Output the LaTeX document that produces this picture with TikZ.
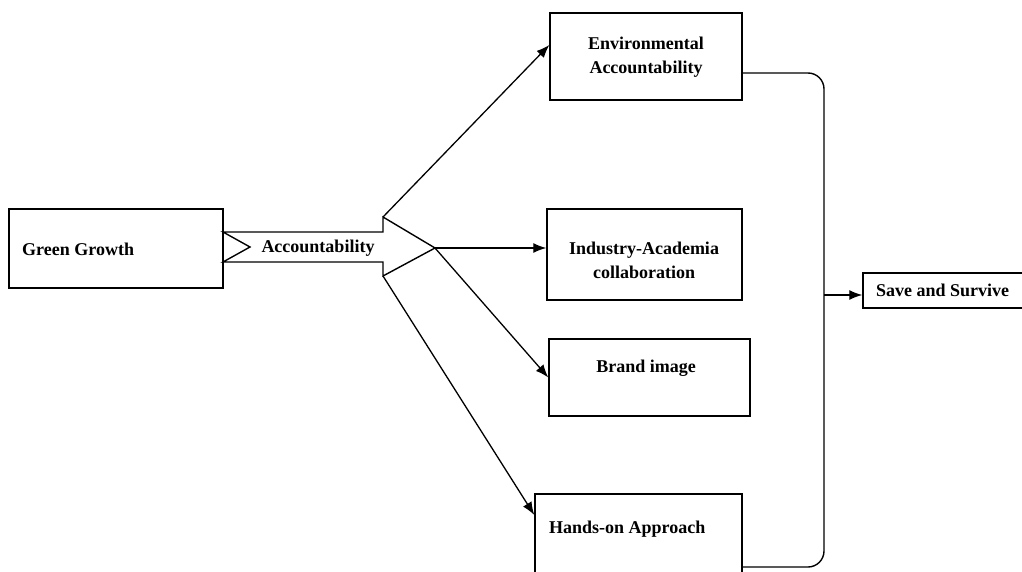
\documentclass[tikz,border=0pt]{standalone}
\usepackage{fontspec}
\setmainfont{Liberation Serif}
\usetikzlibrary{arrows.meta}
\begin{document}
\begin{tikzpicture}[x=1pt,y=-1pt,
  box/.style={draw, line width=1.4pt, rectangle, inner sep=0pt},
  lbl/.style={font=\fontsize{18}{24}\selectfont\bfseries, inner sep=0pt, align=center},
  conn/.style={line width=1.3pt, -{Latex[length=13pt,width=10pt]}},
  plain/.style={line width=1.4pt}]
\useasboundingbox (0,0) rectangle (1022,572);
% boxes
\node[box, minimum width=214pt, minimum height=79pt] (gg) at (116,248.5) {};
\node[box, minimum width=192pt, minimum height=87pt] (env) at (646,56.5) {};
\node[box, minimum width=195pt, minimum height=91pt] (ind) at (644.5,254.5) {};
\node[box, minimum width=201pt, minimum height=77pt] (brand) at (649.5,377.5) {};
\node[box, minimum width=207pt, minimum height=90pt] (hands) at (638.5,539) {};
\node[box, minimum width=170pt, minimum height=35pt] (save) at (948,290.5) {};
% labels
\node[lbl, anchor=west] (ggt) at (22,249) {Green Growth};
\node[lbl] (envt) at (646,57) {Environmental\\Accountability};
\node[lbl] (indt) at (644,260) {Industry-Academia\\collaboration};
\node[lbl] (brandt) at (646,368) {Brand image};
\node[lbl, anchor=west] (handst) at (549,529) {Hands-on Approach};
\node[lbl, anchor=west] (savet) at (876,290) {Save and Survive};
% big arrow
\coordinate (tail1) at (223,232);
\coordinate (notch) at (250,247);
\coordinate (tail2) at (223,262);
\coordinate (topstep) at (383,217);
\coordinate (botstep) at (383,276);
\coordinate (tip) at (435,248);
\draw[line width=1.4pt, line join=miter] (tail1) -- (383,232) -- (topstep) -- (tip) -- (botstep) -- (383,262) -- (tail2) -- (notch) -- cycle;
\node[lbl] (acct) at (318,248) {Accountability};
% connectors
\draw[conn] (topstep) -- ([yshift=11.5pt]env.west);
\draw[conn] (tip) -- ([yshift=6.5pt]ind.west);
\draw[conn] (tip) -- (brand.west);
\draw[conn] (botstep) -- ([yshift=24pt]hands.west);
% bracket
\coordinate (bk) at (824,295);
\draw[plain, rounded corners=16pt] (env.east |- 0,73) -- (824,73) -- (824,567) -- (hands.east |- 0,567);
\draw[conn] (bk) -- (save.west |- bk);
\end{tikzpicture}
\end{document}
